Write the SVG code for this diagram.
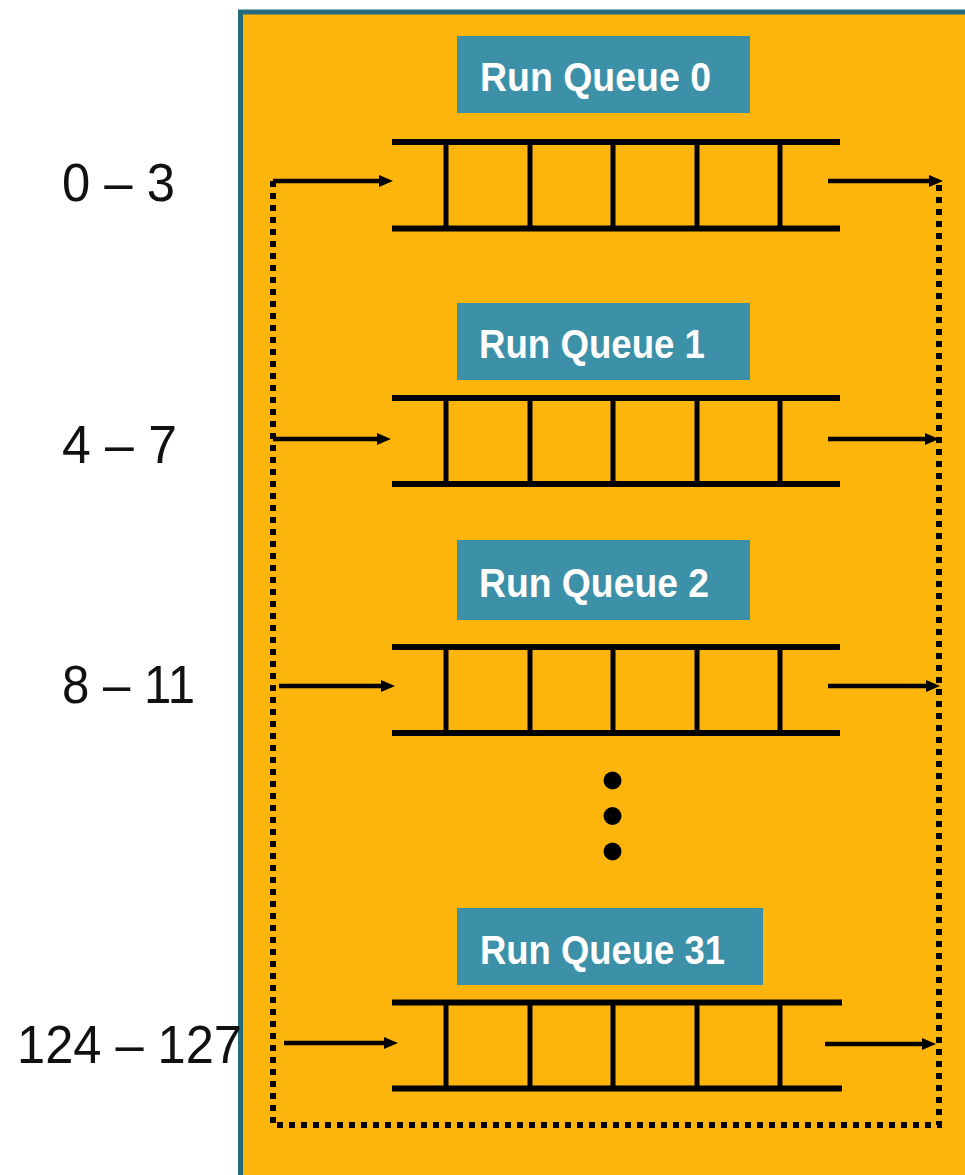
<svg xmlns="http://www.w3.org/2000/svg" width="965" height="1175" viewBox="0 0 965 1175">
<style>
.lbl{fill:#3C90A7}
.lt{font-family:"Liberation Sans",Arial,sans-serif;font-weight:bold;font-size:40px;fill:#FFFFFF}
.rng{font-family:"Liberation Sans",Arial,sans-serif;font-size:54px;fill:#111111}
.h{stroke:#000;stroke-width:6;fill:none}
.v{stroke:#000;stroke-width:5;fill:none}
.ar{stroke:#000;stroke-width:4.5;fill:none}
.ah{fill:#000}
.dot{stroke:#000;stroke-width:6;fill:none;stroke-dasharray:6 6}
</style>
<rect width="965" height="1175" fill="#FFFFFF"/>
<rect id="container" x="240.5" y="12" width="800" height="1300" fill="#FDB50C" stroke="#266B7C" stroke-width="5"/>

<g id="ranges">
<text class="rng" x="62" y="201" textLength="113" lengthAdjust="spacingAndGlyphs">0 – 3</text>
<text class="rng" x="62" y="463" textLength="115" lengthAdjust="spacingAndGlyphs">4 – 7</text>
<text class="rng" x="62" y="703" textLength="133" lengthAdjust="spacingAndGlyphs">8 – 11</text>
<text class="rng" x="17" y="1063" textLength="225" lengthAdjust="spacingAndGlyphs">124 – 127</text>
</g>

<g id="rq0">
<rect class="lbl" x="457" y="36" width="293" height="77"/>
<text class="lt" x="480" y="91" textLength="231" lengthAdjust="spacingAndGlyphs">Run Queue 0</text>
<path class="h" d="M392 142H840M392 228.5H840"/>
<path class="v" d="M446 142V228.5M530 142V228.5M613 142V228.5M697 142V228.5M780 142V228.5"/>
</g>

<g id="rq1">
<rect class="lbl" x="457" y="303" width="293" height="77"/>
<text class="lt" x="479" y="358" textLength="226" lengthAdjust="spacingAndGlyphs">Run Queue 1</text>
<path class="h" d="M392 398H840M392 484H840"/>
<path class="v" d="M446 398V484M530 398V484M613 398V484M697 398V484M780 398V484"/>
</g>

<g id="rq2">
<rect class="lbl" x="457" y="540" width="293" height="80"/>
<text class="lt" x="479" y="597" textLength="230" lengthAdjust="spacingAndGlyphs">Run Queue 2</text>
<path class="h" d="M392 647H840M392 733H840"/>
<path class="v" d="M446 647V733M530 647V733M613 647V733M697 647V733M780 647V733"/>
</g>

<g id="ellipsis">
<circle cx="612.5" cy="780.5" r="9"/>
<circle cx="612.5" cy="816" r="9"/>
<circle cx="612.5" cy="851.5" r="9"/>
</g>

<g id="rq31">
<rect class="lbl" x="457" y="908" width="306" height="77"/>
<text class="lt" x="480" y="964" textLength="245" lengthAdjust="spacingAndGlyphs">Run Queue 31</text>
<path class="h" d="M392 1002.5H842M392 1088.5H842"/>
<path class="v" d="M446 1002.5V1088.5M530 1002.5V1088.5M613 1002.5V1088.5M697 1002.5V1088.5M780 1002.5V1088.5"/>
</g>

<g id="connectors">
<path class="dot" d="M273 181V1125H939V181"/>
<path class="ar" d="M273 181H380"/><polygon class="ah" points="393,181 379,175 379,187"/>
<path class="ar" d="M273 439H378"/><polygon class="ah" points="391,439 377,433 377,445"/>
<path class="ar" d="M279 686H382"/><polygon class="ah" points="395,686 381,680 381,692"/>
<path class="ar" d="M284 1043H385"/><polygon class="ah" points="398,1043 384,1037 384,1049"/>
<path class="ar" d="M828 181H930"/><polygon class="ah" points="943,181 929,175 929,187"/>
<path class="ar" d="M828 439H926"/><polygon class="ah" points="939,439 925,433 925,445"/>
<path class="ar" d="M828 686H927"/><polygon class="ah" points="940,686 926,680 926,692"/>
<path class="ar" d="M825 1044H923"/><polygon class="ah" points="936,1044 922,1038 922,1050"/>
</g>
</svg>
